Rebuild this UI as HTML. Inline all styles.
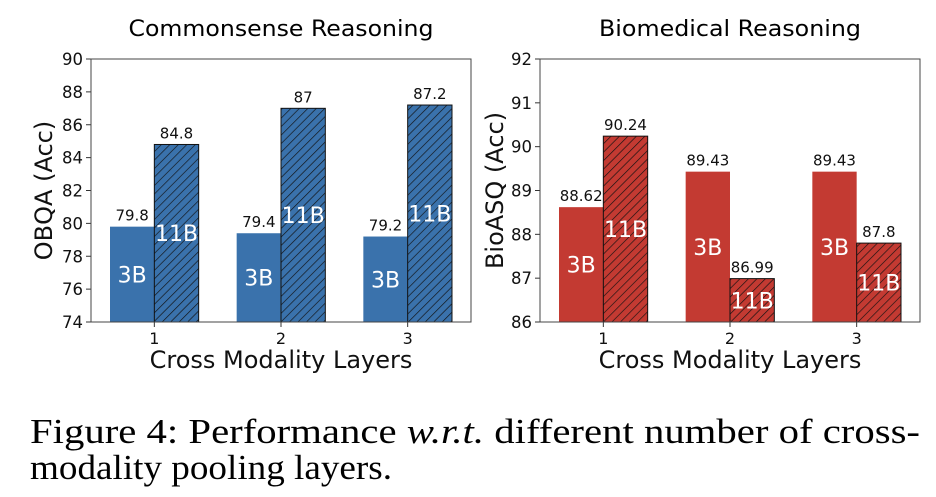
<!DOCTYPE html>
<html><head><meta charset="utf-8"><style>body{margin:0;background:#fff}svg{display:block}</style></head>
<body>
<svg id="fig" width="936" height="497" xmlns="http://www.w3.org/2000/svg" font-family="'DejaVu Sans', 'Liberation Sans', sans-serif">
<defs>
<pattern id="hb" patternUnits="userSpaceOnUse" width="6" height="6" patternTransform="rotate(45)"><rect width="6" height="6" fill="#3a72ac"/><line x1="0" y1="0" x2="0" y2="6" stroke="#111" stroke-width="1.3"/></pattern>
<pattern id="hr" patternUnits="userSpaceOnUse" width="6" height="6" patternTransform="rotate(45)"><rect width="6" height="6" fill="#c33a32"/><line x1="0" y1="0" x2="0" y2="6" stroke="#111" stroke-width="1.3"/></pattern>
</defs>
<g id="left"></g>
<g id="right"></g>
<text x="30" y="443" font-family="'Liberation Serif', serif" font-size="35" textLength="890" lengthAdjust="spacingAndGlyphs">Figure 4: Performance <tspan font-style="italic">w.r.t.</tspan> different number of cross-</text>
<text x="30" y="479" font-family="'Liberation Serif', serif" font-size="35" textLength="362" lengthAdjust="spacingAndGlyphs">modality pooling layers.</text>
</svg>
<script>
const categories = ["1","2","3"];
const obqa3B = [79.8, 79.4, 79.2];
const obqa11B = [84.8, 87, 87.2];
const obqaTicks = [74,76,78,80,82,84,86,88,90];
const bio3B = [88.62, 89.43, 89.43];
const bio11B = [90.24, 86.99, 87.8];
const bioTicks = [86,87,88,89,90,91,92];
const obqa3BLabels = ["79.8","79.4","79.2"];
const obqa11BLabels = ["84.8","87","87.2"];
const bio3BLabels = ["88.62","89.43","89.43"];
const bio11BLabels = ["90.24","86.99","87.8"];

const NS = "http://www.w3.org/2000/svg";
function mk(parent, tag, attrs, text){
  const e = document.createElementNS(NS, tag);
  for (const k in attrs) e.setAttribute(k, attrs[k]);
  if (text !== undefined) e.textContent = text;
  parent.appendChild(e);
  return e;
}
function drawChart(g, cfg){
  const {x0,x1,y0,y1,ymin,ymax,ticks,a,b,al,bl,color,hatch,title,ylabel,titleW} = cfg;
  const ys = v => y1 - (v - ymin) / (ymax - ymin) * (y1 - y0);
  const xs = v => x0 + (v - 0.5) / 3 * (x1 - x0);
  const bw = (x1 - x0) / 3 * 0.35;
  const t = mk(g,'text',{x:(x0+x1)/2,y:36,'text-anchor':'middle','font-size':22,textLength:titleW,lengthAdjust:'spacingAndGlyphs',fill:'#000'},title);
  
  
  categories.forEach((c,i)=>{
    const cx = xs(i+1);
    const r1 = mk(g,'rect',{x:cx-bw,y:ys(a[i]),width:bw,height:ys(ymin)-ys(a[i]),fill:color});
    
    
    const r2 = mk(g,'rect',{x:cx,y:ys(b[i]),width:bw,height:ys(ymin)-ys(b[i]),fill:'url(#'+hatch+')',stroke:'#111','stroke-width':1});
    
    
    const v1 = mk(g,'text',{x:cx-bw/2,y:ys(a[i])-6,'text-anchor':'middle','font-size':15,fill:'#111'},al[i]);
    
    
    const v2 = mk(g,'text',{x:cx+bw/2,y:ys(b[i])-6,'text-anchor':'middle','font-size':15,fill:'#111'},bl[i]);
    
    
    const l1 = mk(g,'text',{x:cx-bw/2,y:(ys(a[i])+ys(ymin))/2+8,'text-anchor':'middle','font-size':22,fill:'#fff'},'3B');
    
    
    const l2 = mk(g,'text',{x:cx+bw/2,y:(ys(b[i])+ys(ymin))/2+8,'text-anchor':'middle','font-size':22,fill:'#fff'},'11B');
    
    
    mk(g,'line',{x1:cx,x2:cx,y1:y1,y2:y1+5,stroke:'#333'});
    const xl = mk(g,'text',{x:cx,y:y1+22,'text-anchor':'middle','font-size':16,fill:'#111'},c);
    
    
  });
  ticks.forEach(v=>{
    mk(g,'line',{x1:x0-5,x2:x0,y1:ys(v),y2:ys(v),stroke:'#333'});
    const tl = mk(g,'text',{x:x0-8,y:ys(v)+6,'text-anchor':'end','font-size':16.5,fill:'#111'},String(v));
    
    
  });
  const fr = mk(g,'rect',{x:x0,y:y0,width:x1-x0,height:y1-y0,fill:'none',stroke:'#444','stroke-width':1});
  
  
  const xt = mk(g,'text',{x:(x0+x1)/2,y:y1+46,'text-anchor':'middle','font-size':24,fill:'#111'},'Cross Modality Layers');
  
  
  const yt = mk(g,'text',{x:0,y:0,'text-anchor':'middle','font-size':24,fill:'#111',transform:`translate(${cfg.ylx},${(y0+y1)/2}) rotate(-90)`},ylabel);
  
  
}
drawChart(document.getElementById('left'),{x0:91,x1:471,y0:59,y1:322,ymin:74,ymax:90,ticks:obqaTicks,a:obqa3B,b:obqa11B,al:obqa3BLabels,bl:obqa11BLabels,color:'#3a72ac',hatch:'hb',title:'Commonsense Reasoning',ylabel:'OBQA (Acc)',titleW:305,ylx:52});
drawChart(document.getElementById('right'),{x0:540,x1:920,y0:59,y1:322,ymin:86,ymax:92,ticks:bioTicks,a:bio3B,b:bio11B,al:bio3BLabels,bl:bio11BLabels,color:'#c33a32',hatch:'hr',title:'Biomedical Reasoning',ylabel:'BioASQ (Acc)',titleW:262,ylx:503});
</script>
</body></html>
